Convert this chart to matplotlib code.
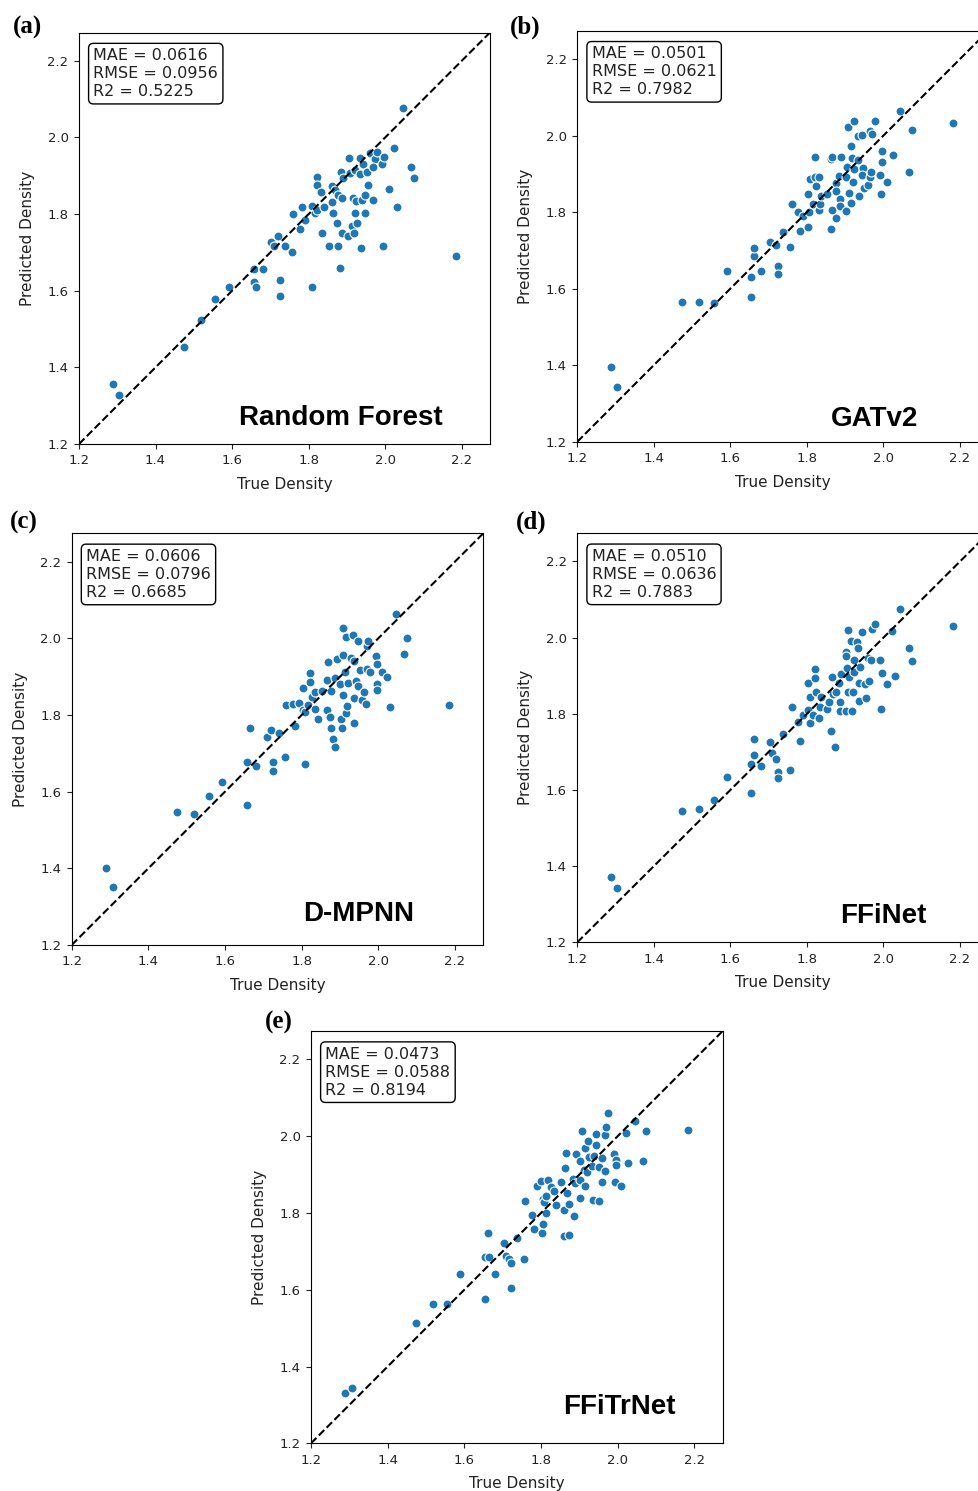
import numpy as np
import matplotlib
matplotlib.use("Agg")
import matplotlib.pyplot as plt

# values (true density, predicted density)
rf_true = [1.288, 1.305, 1.474, 1.518, 1.555, 1.591, 1.656, 1.656, 1.663, 1.682,
           1.725, 1.725, 1.703, 1.719, 1.710, 1.739, 1.757, 1.760, 1.778, 1.784,
           1.791, 1.809, 1.808, 1.817, 1.821, 1.821, 1.821, 1.832, 1.841, 1.835,
           1.853, 1.862, 1.864, 1.862, 1.869, 1.873, 1.877, 1.882, 1.878, 1.884,
           1.888, 1.891, 1.888, 1.904, 1.906, 1.908, 1.913, 1.915, 1.919, 1.920,
           1.920, 1.926, 1.923, 1.934, 1.934, 1.937, 1.939, 1.941, 1.948, 1.948,
           1.952, 1.956, 1.960, 1.967, 1.974, 1.978, 1.969, 1.993, 1.998, 1.995,
           2.010, 2.024, 2.030, 2.046, 2.068, 2.076, 2.185]
rf_pred = [1.357, 1.327, 1.453, 1.523, 1.578, 1.610, 1.658, 1.622, 1.610, 1.658,
           1.627, 1.587, 1.726, 1.743, 1.716, 1.716, 1.700, 1.799, 1.761, 1.819,
           1.784, 1.610, 1.820, 1.803, 1.811, 1.898, 1.875, 1.857, 1.819, 1.750,
           1.717, 1.832, 1.803, 1.874, 1.862, 1.777, 1.717, 1.659, 1.850, 1.911,
           1.752, 1.894, 1.842, 1.743, 1.946, 1.907, 1.768, 1.842, 1.750, 1.803,
           1.916, 1.778, 1.833, 1.946, 1.905, 1.711, 1.837, 1.931, 1.803, 1.850,
           1.909, 1.877, 1.959, 1.837, 1.945, 1.963, 1.924, 1.930, 1.948, 1.717,
           1.865, 1.972, 1.819, 2.078, 1.924, 1.894, 1.691]

gat_true = [1.289, 1.305, 1.474, 1.517, 1.556, 1.590, 1.655, 1.655, 1.663, 1.663,
            1.681, 1.703, 1.718, 1.724, 1.724, 1.738, 1.756, 1.760, 1.776, 1.782,
            1.790, 1.803, 1.803, 1.805, 1.807, 1.816, 1.820, 1.820, 1.823, 1.831,
            1.831, 1.835, 1.837, 1.852, 1.863, 1.866, 1.863, 1.866, 1.875, 1.875,
            1.877, 1.883, 1.887, 1.887, 1.890, 1.901, 1.903, 1.904, 1.907, 1.910,
            1.914, 1.916, 1.920, 1.922, 1.924, 1.918, 1.933, 1.933, 1.936, 1.944,
            1.946, 1.944, 1.950, 1.959, 1.966, 1.970, 1.965, 1.968, 1.977, 1.990,
            1.997, 1.997, 1.994, 2.009, 2.026, 2.043, 2.066, 2.075, 2.183]
gat_pred = [1.396, 1.343, 1.564, 1.564, 1.562, 1.646, 1.577, 1.630, 1.684, 1.707,
            1.646, 1.722, 1.713, 1.658, 1.639, 1.747, 1.709, 1.820, 1.801, 1.750,
            1.789, 1.762, 1.846, 1.801, 1.886, 1.820, 1.945, 1.893, 1.869, 1.893,
            1.806, 1.820, 1.843, 1.846, 1.938, 1.945, 1.756, 1.806, 1.785, 1.877,
            1.855, 1.895, 1.835, 1.815, 1.943, 1.893, 1.803, 1.919, 2.023, 1.850,
            1.823, 1.974, 1.878, 2.037, 1.913, 1.942, 1.937, 2.000, 1.843, 2.002,
            1.916, 1.896, 1.863, 1.870, 2.013, 2.003, 1.893, 1.904, 2.037, 1.896,
            1.959, 1.930, 1.846, 1.878, 1.950, 2.063, 1.904, 2.015, 2.032]

dmpnn_true = [1.290, 1.307, 1.476, 1.519, 1.557, 1.591, 1.657, 1.657, 1.664, 1.682,
              1.709, 1.719, 1.726, 1.726, 1.740, 1.757, 1.759, 1.777, 1.783, 1.792,
              1.803, 1.804, 1.810, 1.808, 1.817, 1.821, 1.822, 1.826, 1.835, 1.836,
              1.842, 1.852, 1.865, 1.865, 1.868, 1.874, 1.876, 1.876, 1.881, 1.887,
              1.887, 1.891, 1.900, 1.902, 1.904, 1.907, 1.909, 1.909, 1.913, 1.915,
              1.917, 1.919, 1.922, 1.930, 1.935, 1.937, 1.937, 1.937, 1.942, 1.946,
              1.948, 1.952, 1.957, 1.962, 1.967, 1.970, 1.973, 1.970, 1.978, 1.993,
              1.997, 1.997, 1.996, 2.010, 2.023, 2.030, 2.045, 2.068, 2.076, 2.185]
dmpnn_pred = [1.402, 1.352, 1.547, 1.541, 1.588, 1.625, 1.565, 1.677, 1.765, 1.667,
              1.742, 1.760, 1.677, 1.653, 1.754, 1.690, 1.826, 1.829, 1.771, 1.831,
              1.870, 1.814, 1.672, 1.807, 1.826, 1.910, 1.887, 1.847, 1.860, 1.815,
              1.790, 1.862, 1.814, 1.892, 1.939, 1.794, 1.765, 1.862, 1.737, 1.716,
              1.896, 1.947, 1.880, 1.789, 1.765, 1.957, 2.026, 1.853, 1.911, 1.804,
              2.003, 1.823, 1.883, 1.950, 2.010, 1.940, 1.845, 1.780, 1.890, 1.994,
              1.875, 1.917, 1.840, 1.860, 1.828, 1.979, 1.994, 1.920, 1.913, 1.953,
              1.934, 1.881, 1.864, 1.913, 1.899, 1.821, 2.064, 1.960, 2.000, 1.826]

ffinet_true = [1.289, 1.305, 1.474, 1.517, 1.556, 1.590, 1.655, 1.655, 1.663, 1.663,
               1.681, 1.704, 1.709, 1.718, 1.724, 1.724, 1.738, 1.756, 1.760, 1.777,
               1.782, 1.790, 1.803, 1.803, 1.807, 1.809, 1.816, 1.820, 1.820, 1.823,
               1.831, 1.835, 1.837, 1.852, 1.859, 1.863, 1.865, 1.869, 1.874, 1.877,
               1.883, 1.887, 1.887, 1.890, 1.901, 1.903, 1.904, 1.903, 1.907, 1.907,
               1.910, 1.916, 1.918, 1.920, 1.922, 1.924, 1.931, 1.933, 1.936, 1.936,
               1.938, 1.944, 1.952, 1.955, 1.959, 1.963, 1.970, 1.977, 1.968, 1.991,
               1.997, 1.994, 2.009, 2.023, 2.029, 2.043, 2.066, 2.075, 2.183]
ffinet_pred = [1.372, 1.343, 1.546, 1.551, 1.574, 1.633, 1.592, 1.668, 1.693, 1.735,
               1.662, 1.727, 1.697, 1.681, 1.648, 1.631, 1.748, 1.653, 1.818, 1.778,
               1.729, 1.796, 1.809, 1.882, 1.775, 1.843, 1.797, 1.917, 1.893, 1.856,
               1.788, 1.819, 1.843, 1.812, 1.830, 1.755, 1.896, 1.853, 1.712, 1.858,
               1.882, 1.830, 1.808, 1.905, 1.963, 1.808, 1.920, 1.952, 2.021, 1.856,
               1.896, 1.991, 1.808, 1.856, 1.941, 1.911, 1.989, 1.972, 1.882, 1.834,
               1.924, 2.016, 1.877, 1.841, 1.947, 1.887, 2.023, 2.036, 1.941, 1.941,
               1.906, 1.812, 1.877, 2.017, 1.899, 2.074, 1.973, 1.938, 2.030]

ffitrnet_true = [1.289, 1.307, 1.474, 1.517, 1.555, 1.590, 1.655, 1.655, 1.663, 1.664,
                 1.681, 1.703, 1.708, 1.716, 1.723, 1.723, 1.738, 1.756, 1.758, 1.776,
                 1.781, 1.790, 1.801, 1.803, 1.805, 1.805, 1.807, 1.813, 1.813, 1.819,
                 1.826, 1.835, 1.840, 1.853, 1.859, 1.863, 1.866, 1.861, 1.874, 1.868,
                 1.874, 1.885, 1.883, 1.890, 1.892, 1.901, 1.902, 1.902, 1.906, 1.911,
                 1.914, 1.915, 1.920, 1.922, 1.925, 1.933, 1.935, 1.939, 1.943, 1.943,
                 1.952, 1.951, 1.960, 1.960, 1.968, 1.968, 1.970, 1.976, 1.990, 1.996,
                 1.996, 1.993, 2.009, 2.022, 2.026, 2.044, 2.065, 2.074, 2.183]
ffitrnet_pred = [1.330, 1.345, 1.514, 1.564, 1.564, 1.642, 1.575, 1.685, 1.748, 1.685,
                 1.642, 1.723, 1.687, 1.681, 1.670, 1.604, 1.734, 1.679, 1.832, 1.796,
                 1.758, 1.870, 1.884, 1.748, 1.771, 1.836, 1.828, 1.800, 1.845, 1.887,
                 1.867, 1.856, 1.822, 1.881, 1.809, 1.917, 1.957, 1.741, 1.743, 1.853,
                 1.824, 1.791, 1.889, 1.877, 1.953, 1.838, 1.936, 1.887, 2.014, 1.911,
                 1.869, 1.970, 1.906, 1.988, 1.946, 1.922, 1.835, 1.948, 2.005, 1.977,
                 1.832, 1.919, 1.943, 1.881, 2.004, 1.910, 2.023, 2.060, 1.953, 1.938,
                 1.926, 1.881, 1.869, 2.008, 1.931, 2.040, 1.936, 2.014, 2.016]

panel_tags = ["(a)", "(b)", "(c)", "(d)", "(e)"]
model_names = ["Random Forest", "GATv2", "D-MPNN", "FFiNet", "FFiTrNet"]
mae_vals = ["0.0616", "0.0501", "0.0606", "0.0510", "0.0473"]
rmse_vals = ["0.0956", "0.0621", "0.0796", "0.0636", "0.0588"]
r2_vals = ["0.5225", "0.7982", "0.6685", "0.7883", "0.8194"]
tick_vals = [1.2, 1.4, 1.6, 1.8, 2.0, 2.2]

true_sets = [rf_true, gat_true, dmpnn_true, ffinet_true, ffitrnet_true]
pred_sets = [rf_pred, gat_pred, dmpnn_pred, ffinet_pred, ffitrnet_pred]

W, H = 979, 1491
fig = plt.figure(figsize=(W / 100, H / 100), dpi=100)

# axes boxes in pixels: left, top, right, bottom
boxes = [(79, 32.5, 490, 444),
         (577.3, 30.7, 988.3, 441.7),
         (71.7, 533.3, 483.3, 945),
         (577.3, 533.3, 988.3, 942.3),
         (311, 1031, 722.7, 1443.3)]
# model name centre in axes fraction
name_pos = [(0.637, 0.063), (0.723, 0.056), (0.697, 0.075), (0.744, 0.065), (0.749, 0.089)]
# panel tag centre in pixels
tag_pos = [(28, 27), (525, 27), (24, 522), (531, 522), (279, 1022)]

lims = [1.2, 2.274]

for i in range(5):
    l, t, r, b = boxes[i]
    ax = fig.add_axes([l / W, 1 - b / H, (r - l) / W, (b - t) / H])
    ax.scatter(true_sets[i], pred_sets[i], s=42, color="#1f77b4",
               edgecolors="white", linewidths=0.8, zorder=3)
    ax.plot(lims, lims, "k--", lw=1.5, zorder=4)
    ax.set_xlim(lims)
    ax.set_ylim(lims)
    ax.set_xticks(tick_vals)
    ax.set_yticks(tick_vals)
    ax.tick_params(labelsize=9.5, colors="#222222", pad=4)
    ax.set_xlabel("True Density", fontsize=11, labelpad=7, color="#222222")
    ax.set_ylabel("Predicted Density", fontsize=11, labelpad=9, color="#222222")

    txt = f"MAE = {mae_vals[i]}\nRMSE = {rmse_vals[i]}\nR2 = {r2_vals[i]}"
    ax.text(0.035, 0.962, txt, transform=ax.transAxes, fontsize=11.5,
            va="top", ha="left", linespacing=1.25, color="#222222",
            bbox=dict(boxstyle="round,pad=0.3", fc="white", ec="black", lw=1))

    ax.text(name_pos[i][0], name_pos[i][1], model_names[i], transform=ax.transAxes,
            fontsize=20, fontweight="bold", family="Liberation Sans",
            ha="center", va="center")

    fig.text(tag_pos[i][0] / W, 1 - tag_pos[i][1] / H, panel_tags[i],
             fontsize=18, fontweight="bold", family="Liberation Serif",
             ha="center", va="center")

fig.savefig("out.png", dpi=100)
